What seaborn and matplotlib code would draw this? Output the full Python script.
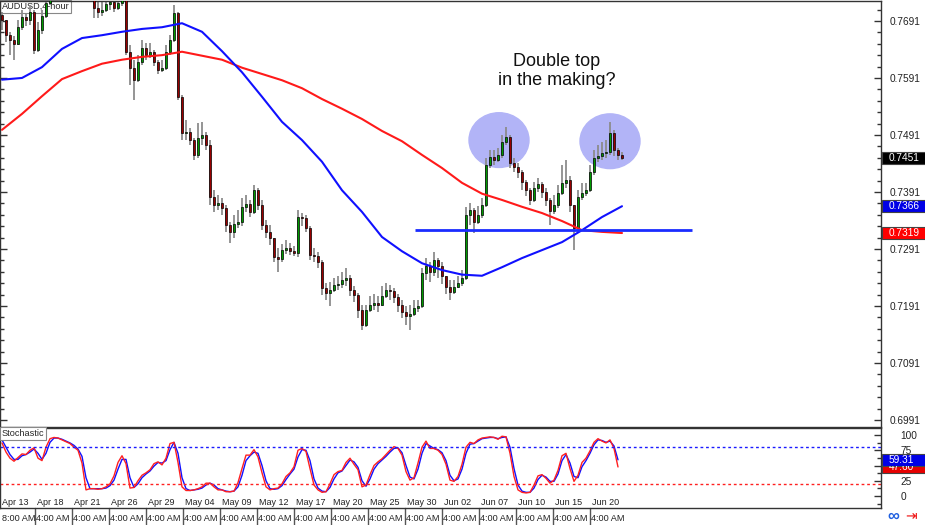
import numpy as np
import matplotlib
matplotlib.use("Agg")
import matplotlib.pyplot as plt
import matplotlib.ticker as mticker
from matplotlib.patches import Ellipse, Rectangle
from matplotlib.transforms import blended_transform_factory
import seaborn as sns

# AUDUSD 4-hour candles (open of each bar = previous close)
first_open = 0.7702
closes = [0.7693, 0.7667, 0.7658, 0.7651, 0.7681, 0.7698, 0.7693, 0.7707, 0.7640, 0.7675,
          0.7700, 0.7723, 0.7742, 0.7749, 0.7760, 0.7767, 0.7754, 0.7772, 0.7763, 0.7753,
          0.7760, 0.7746, 0.7739, 0.7714, 0.7707, 0.7710, 0.7721, 0.7724, 0.7714, 0.7723,
          0.7728, 0.7637, 0.7609, 0.7588, 0.7619, 0.7644, 0.7632, 0.7637, 0.7619, 0.7605,
          0.7609, 0.7637, 0.7658, 0.7705, 0.7558, 0.7495, 0.7496, 0.7482, 0.7456, 0.7486,
          0.7491, 0.7474, 0.7382, 0.7368, 0.7372, 0.7363, 0.7333, 0.7321, 0.7335, 0.7339,
          0.7365, 0.7370, 0.7356, 0.7395, 0.7368, 0.7333, 0.7321, 0.7311, 0.7277, 0.7274,
          0.7290, 0.7293, 0.7288, 0.7284, 0.7347, 0.7346, 0.7328, 0.7281, 0.7279, 0.7268,
          0.7223, 0.7214, 0.7219, 0.7228, 0.7230, 0.7237, 0.7240, 0.7219, 0.7210, 0.7184,
          0.7158, 0.7184, 0.7193, 0.7197, 0.7193, 0.7209, 0.7219, 0.7218, 0.7207, 0.7193,
          0.7181, 0.7174, 0.7177, 0.7188, 0.7191, 0.7249, 0.7261, 0.7251, 0.7272, 0.7261,
          0.7244, 0.7225, 0.7216, 0.7225, 0.7232, 0.7240, 0.7351, 0.7360, 0.7339, 0.7351,
          0.7368, 0.7439, 0.7452, 0.7447, 0.7456, 0.7479, 0.7488, 0.7442, 0.7435, 0.7426,
          0.7409, 0.7395, 0.7377, 0.7398, 0.7405, 0.7391, 0.7377, 0.7358, 0.7368, 0.7390,
          0.7407, 0.7412, 0.7368, 0.7328, 0.7382, 0.7390, 0.7395, 0.7426, 0.7451, 0.7454,
          0.7460, 0.7461, 0.7495, 0.7465, 0.7456, 0.7451]
highs = [0.7707, 0.7684, 0.7672, 0.7665, 0.7693, 0.7710, 0.7703, 0.7719, 0.7710, 0.7689,
         0.7710, 0.7737, 0.7754, 0.7759, 0.7770, 0.7777, 0.7777, 0.7780, 0.7773, 0.7770,
         0.7770, 0.7766, 0.7749, 0.7742, 0.7724, 0.7724, 0.7735, 0.7735, 0.7724, 0.7733,
         0.7738, 0.7731, 0.7649, 0.7623, 0.7631, 0.7658, 0.7652, 0.7652, 0.7640, 0.7623,
         0.7623, 0.7649, 0.7666, 0.7719, 0.7707, 0.7561, 0.7517, 0.7503, 0.7486, 0.7512,
         0.7514, 0.7496, 0.7482, 0.7394, 0.7386, 0.7380, 0.7368, 0.7338, 0.7351, 0.7359,
         0.7380, 0.7386, 0.7377, 0.7403, 0.7398, 0.7377, 0.7342, 0.7333, 0.7310, 0.7293,
         0.7300, 0.7307, 0.7301, 0.7296, 0.7359, 0.7354, 0.7351, 0.7331, 0.7293, 0.7286,
         0.7272, 0.7231, 0.7233, 0.7240, 0.7244, 0.7251, 0.7258, 0.7246, 0.7226, 0.7214,
         0.7193, 0.7193, 0.7209, 0.7212, 0.7209, 0.7226, 0.7231, 0.7228, 0.7223, 0.7212,
         0.7201, 0.7191, 0.7193, 0.7201, 0.7201, 0.7258, 0.7275, 0.7268, 0.7286, 0.7275,
         0.7268, 0.7244, 0.7237, 0.7237, 0.7244, 0.7254, 0.7365, 0.7372, 0.7363, 0.7366,
         0.7380, 0.7451, 0.7465, 0.7465, 0.7468, 0.7491, 0.7505, 0.7491, 0.7451, 0.7442,
         0.7430, 0.7412, 0.7398, 0.7409, 0.7416, 0.7409, 0.7398, 0.7380, 0.7386, 0.7403,
         0.7438, 0.7447, 0.7419, 0.7368, 0.7394, 0.7407, 0.7407, 0.7438, 0.7465, 0.7473,
         0.7479, 0.7482, 0.7514, 0.7500, 0.7468, 0.7461]
lows = [0.7675, 0.7654, 0.7631, 0.7623, 0.7649, 0.7675, 0.7682, 0.7684, 0.7633, 0.7637,
        0.7668, 0.7696, 0.7719, 0.7735, 0.7742, 0.7752, 0.7745, 0.7745, 0.7756, 0.7745,
        0.7742, 0.7737, 0.7728, 0.7696, 0.7696, 0.7700, 0.7707, 0.7710, 0.7707, 0.7710,
        0.7717, 0.7631, 0.7579, 0.7552, 0.7584, 0.7614, 0.7623, 0.7626, 0.7612, 0.7598,
        0.7601, 0.7605, 0.7631, 0.7654, 0.7552, 0.7482, 0.7482, 0.7473, 0.7447, 0.7451,
        0.7473, 0.7465, 0.7368, 0.7356, 0.7359, 0.7351, 0.7321, 0.7301, 0.7310, 0.7328,
        0.7331, 0.7356, 0.7347, 0.7352, 0.7359, 0.7324, 0.7310, 0.7298, 0.7268, 0.7251,
        0.7268, 0.7282, 0.7280, 0.7279, 0.7277, 0.7331, 0.7321, 0.7272, 0.7268, 0.7258,
        0.7210, 0.7201, 0.7191, 0.7216, 0.7219, 0.7223, 0.7226, 0.7209, 0.7198, 0.7170,
        0.7149, 0.7154, 0.7180, 0.7184, 0.7180, 0.7191, 0.7205, 0.7201, 0.7196, 0.7180,
        0.7170, 0.7158, 0.7149, 0.7173, 0.7180, 0.7188, 0.7237, 0.7233, 0.7244, 0.7240,
        0.7230, 0.7212, 0.7201, 0.7212, 0.7223, 0.7226, 0.7237, 0.7333, 0.7319, 0.7335,
        0.7345, 0.7365, 0.7433, 0.7438, 0.7444, 0.7451, 0.7473, 0.7433, 0.7426, 0.7416,
        0.7394, 0.7384, 0.7368, 0.7373, 0.7391, 0.7380, 0.7366, 0.7333, 0.7352, 0.7363,
        0.7386, 0.7398, 0.7356, 0.7289, 0.7321, 0.7377, 0.7384, 0.7391, 0.7421, 0.7444,
        0.7447, 0.7451, 0.7456, 0.7454, 0.7447, 0.7447]

# moving averages, read every 5 bars
ma_bars = list(range(0, 156, 5))
ma_blue = [0.7588, 0.7591, 0.7610, 0.7642, 0.7661, 0.7666, 0.7672, 0.7677, 0.7680, 0.7687,
           0.7672, 0.7638, 0.7601, 0.7558, 0.7514, 0.7482, 0.7444, 0.7394, 0.7356, 0.7312,
           0.7287, 0.7266, 0.7254, 0.7246, 0.7244, 0.7259, 0.7275, 0.7289, 0.7303, 0.7324,
           0.7347, 0.7366]
ma_red = [0.7500, 0.7528, 0.7559, 0.7589, 0.7603, 0.7616, 0.7623, 0.7628, 0.7631, 0.7637,
          0.7630, 0.7623, 0.7609, 0.7598, 0.7587, 0.7573, 0.7554, 0.7537, 0.7519, 0.7498,
          0.7480, 0.7456, 0.7433, 0.7407, 0.7388, 0.7377, 0.7365, 0.7354, 0.7340, 0.7324,
          0.7321, 0.7319]

# stochastic oscillator, one value per bar
stoch_red = [87, 72, 62, 57, 63, 69, 68, 75, 79, 62,
             58, 80, 94, 96, 95, 92, 89, 86, 80, 75,
             54, 10, 12, 12, 11, 12, 15, 20, 33, 55,
             66, 53, 13, 14, 25, 34, 38, 43, 53, 56,
             51, 62, 86, 88, 55, 15, 9, 9, 10, 12,
             15, 21, 21, 15, 10, 10, 7, 7, 8, 22,
             45, 67, 67, 76, 64, 38, 15, 10, 12, 13,
             20, 32, 38, 48, 75, 78, 73, 45, 18, 10,
             6, 7, 20, 35, 40, 42, 55, 62, 52, 43,
             15, 18, 35, 50, 56, 61, 68, 75, 81, 78,
             67, 40, 26, 30, 54, 80, 90, 78, 78, 75,
             68, 52, 26, 24, 32, 52, 80, 88, 86, 92,
             95, 96, 97, 96, 93, 98, 97, 70, 32, 10,
             6, 5, 6, 18, 33, 35, 29, 21, 26, 42,
             66, 70, 45, 24, 34, 55, 62, 74, 88, 94,
             90, 87, 92, 78, 47.6]
stoch_blue = [92, 80, 68, 60, 60, 66, 68, 72, 77, 70,
              60, 70, 88, 95, 95, 93, 90, 87, 83, 77,
              65, 30, 12, 12, 12, 12, 13, 17, 26, 44,
              60, 60, 30, 14, 20, 30, 36, 41, 49, 55,
              54, 58, 76, 88, 70, 30, 12, 9, 10, 11,
              13, 18, 21, 18, 12, 10, 8, 7, 8, 15,
              34, 58, 66, 72, 70, 50, 25, 12, 11, 12,
              17, 27, 36, 44, 64, 76, 75, 58, 28, 13,
              8, 7, 14, 28, 38, 41, 50, 59, 56, 47,
              25, 16, 28, 44, 53, 59, 65, 72, 78, 79,
              71, 50, 31, 28, 44, 70, 86, 82, 78, 76,
              71, 58, 34, 25, 28, 44, 70, 85, 86, 90,
              94, 95, 96, 96, 94, 96, 97, 80, 45, 18,
              8, 6, 6, 13, 27, 34, 31, 24, 24, 36,
              58, 68, 54, 32, 30, 48, 58, 70, 84, 92,
              91, 88, 90, 82, 59.31]

date_labels = ["Apr 13", "Apr 18", "Apr 21", "Apr 26", "Apr 29", "May 04", "May 09", "May 12",
               "May 17", "May 20", "May 25", "May 30", "Jun 02", "Jun 07", "Jun 10", "Jun 15",
               "Jun 20"]
time_labels = ["8:00 AM"] + ["4:00 AM"] * 16
price_ticks = [0.6991, 0.7091, 0.7191, 0.7291, 0.7391, 0.7491, 0.7591, 0.7691]
support = 0.7325

sns.set_style("white")
plt.rcParams['font.family'] = ['Liberation Sans', 'DejaVu Sans']

W, H = 925, 525
fig = plt.figure(figsize=(9.25, 5.25), dpi=100)
ax = fig.add_axes([0, 1 - 427 / H, 881 / W, 426 / H])
ax2 = fig.add_axes([0, 1 - 508 / H, 881 / W, 80 / H])

n = len(closes)
bars = np.arange(n)
c = np.array(closes)
opens = np.array([first_open] + closes[:-1])
h = np.maximum(np.array(highs), np.maximum(opens, c))
l = np.minimum(np.array(lows), np.minimum(opens, c))
up = c >= opens

xmin, xmax = -0.5, 219.75
ax.set_xlim(xmin, xmax)
ax.set_ylim(0.69787, 0.7726)

# highlighted tops
ax.add_patch(Ellipse((124.25, 0.7482), 15, 0.0096, color='#b2b4f7', zorder=1))
ax.add_patch(Ellipse((152.0, 0.7480), 15, 0.0096, color='#b2b4f7', zorder=1))

ax.text(0.002, 0.997, "AUDUSD,4-hour", transform=ax.transAxes, ha='left', va='top',
        fontsize=6.6, zorder=1.5,
        bbox=dict(boxstyle='square,pad=0.2', fc='white', ec='#888888', lw=0.8))

# candles
ax.vlines(bars, l, h, color='#8c8c8c', lw=1.3, zorder=2)
body_low = np.minimum(opens, c)
body_h = np.maximum(np.abs(c - opens), 0.00006)
ax.bar(bars[up], body_h[up], bottom=body_low[up], width=0.65, color='#009a00',
       edgecolor='black', lw=0.5, zorder=3)
ax.bar(bars[~up], body_h[~up], bottom=body_low[~up], width=0.65, color='#990000',
       edgecolor='black', lw=0.5, zorder=3)

sns.lineplot(x=ma_bars, y=ma_red, ax=ax, color='#ff1a1a', lw=1.5, zorder=4)
sns.lineplot(x=ma_bars, y=ma_blue, ax=ax, color='#1010ff', lw=1.5, zorder=4)
ax.hlines(support, 103.25, 172.5, color='#1a2cff', lw=2, zorder=5)

ax.text(138.75, 0.7603, "Double top\nin the making?", ha='center', va='center',
        fontsize=13, linespacing=1.1, color='#111111', zorder=6)

ax.yaxis.tick_right()
ax.set_yticks(price_ticks)
ax.set_yticklabels([f"{p:.4f}" for p in price_ticks])
ax.yaxis.set_minor_locator(mticker.FixedLocator(np.arange(0.6971, 0.7740, 0.002)))
ax.set_xticks([])
ax.tick_params(axis='y', which='both', left=True, right=True, labelleft=False,
               labelright=True, direction='in', colors='#333333', labelcolor='#222222')
ax.tick_params(axis='y', which='major', length=5, width=1, labelsize=7.3, pad=6)
ax.tick_params(axis='y', which='minor', length=3, width=1)
for s in ax.spines.values():
    s.set_color('#333333')
    s.set_linewidth(1)

# stochastic panel
ax2.set_xlim(xmin, xmax)
ax2.set_ylim(-19.7, 111.5)
sb = np.arange(len(stoch_red))
sns.lineplot(x=sb, y=stoch_blue, ax=ax2, color='#1010ff', lw=1)
sns.lineplot(x=sb, y=stoch_red, ax=ax2, color='#ff2020', lw=1)
ax2.axhline(80, color='#1a1aff', ls=(0, (2, 2)), lw=1)
ax2.axhline(20, color='#ff2020', ls=(0, (2, 2)), lw=1)
ax2.yaxis.tick_right()
ax2.set_yticks([0, 25, 50, 75, 100])
# the 50 label sits under the value tags
ax2.set_yticklabels(["0", "25", "", "75", "100"])
ax2.yaxis.set_minor_locator(mticker.MultipleLocator(12.5))
ax2.set_xticks([])
ax2.tick_params(axis='y', which='both', left=False, right=True, labelright=True,
                direction='in', colors='#333333', labelcolor='#222222')
ax2.tick_params(axis='y', which='major', length=5, width=1, labelsize=7.3, pad=14)
ax2.tick_params(axis='y', which='minor', length=3, width=1)
for s in ax2.spines.values():
    s.set_color('#333333')
    s.set_linewidth(1)

ax2.text(0.002, 0.985, "Stochastic", transform=ax2.transAxes, ha='left', va='top',
         fontsize=6.6, bbox=dict(boxstyle='square,pad=0.2', fc='white', ec='#888888', lw=0.8))

# date / time labels
seps = 8.25 + 9.25 * np.arange(16)
starts = np.concatenate([[0.0], seps])
tr2 = blended_transform_factory(ax2.transData, ax2.transAxes)
for i, (d, t) in enumerate(zip(date_labels, time_labels)):
    ax2.text(starts[i] + (0.0 if i == 0 else 0.5), -10, d, ha='left', va='center',
             fontsize=6.5, color='#222222')
    ax2.text(starts[i] + (0.0 if i == 0 else 0.3), -0.13, t, transform=tr2, ha='left',
             va='center', fontsize=6.6, color='#222222', clip_on=False)
for s in seps:
    ax2.plot([s, s], [0, -0.22], transform=tr2, color='#555555', lw=1, clip_on=False)


def tag(axis, yval, text, fc, hh, visible_top=None):
    trans = blended_transform_factory(fig.transFigure, axis.transData)
    axis.add_patch(Rectangle((881.5 / W, yval - hh / 2), 44 / W, hh, transform=trans,
                             facecolor=fc, edgecolor='#444444', lw=0.8, clip_on=False,
                             zorder=10))
    t = axis.text(889 / W, yval, text, transform=trans, ha='left', va='center', color='white',
                  fontsize=7.3, clip_on=False, zorder=11)
    if visible_top is not None:
        # the part of this tag covered by the tag above it stays hidden
        clip = Rectangle((881.5 / W, yval - hh / 2), 44 / W, visible_top - (yval - hh / 2),
                         transform=trans)
        t.set_clip_on(True)
        t.set_clip_path(clip)


tag(ax, c[-1], f"{c[-1]:.4f}", 'black', 0.0021)
tag(ax, ma_blue[-1], f"{ma_blue[-1]:.4f}", '#0000e6', 0.0021)
tag(ax, ma_red[-1], f"{ma_red[-1]:.4f}", '#ff0000', 0.0021)
tag(ax2, stoch_red[-1], f"{stoch_red[-1]:.2f}", '#e60000', 19.7,
    visible_top=stoch_blue[-1] - 19.7 / 2)
tag(ax2, stoch_blue[-1], f"{stoch_blue[-1]:.2f}", '#0000e6', 19.7)

fig.text(893 / W, 1 - 516 / H, "\u221e", color='#2060e0', fontsize=12, ha='center',
         va='center', fontweight='bold')
fig.text(911 / W, 1 - 516 / H, "\u21e5", color='#ee1111', fontsize=10, ha='center',
         va='center', family=['DejaVu Sans'])

fig.savefig('out.png', dpi=100)
